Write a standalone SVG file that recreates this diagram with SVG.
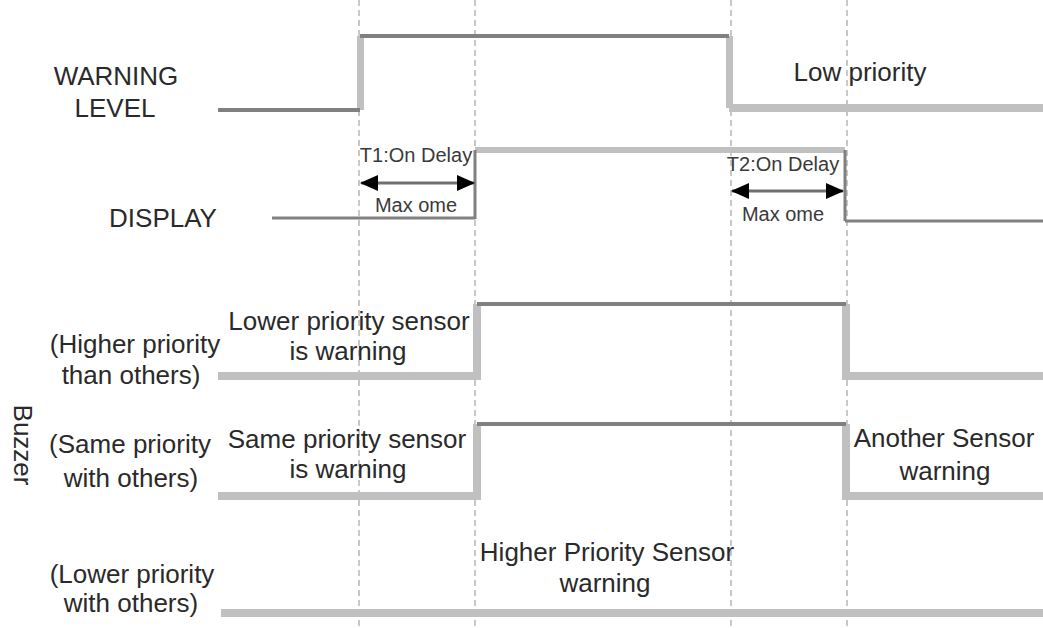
<svg xmlns="http://www.w3.org/2000/svg" width="1043" height="628" viewBox="0 0 1043 628">
  <style>
    .t { font-family: "Liberation Sans", Arial, sans-serif; font-size: 26px; fill: #2a2a2a; text-anchor: middle; }
    .s { font-family: "Liberation Sans", Arial, sans-serif; font-size: 20px; fill: #3a3a3a; text-anchor: middle; }
    .grid { stroke: #c8c8c8; stroke-width: 2; stroke-dasharray: 6 4; fill: none; }
    .dk { stroke: #808080; stroke-width: 4; fill: none; }
    .dk3 { stroke: #808080; stroke-width: 3; fill: none; }
    .lt { stroke: #c0c0c0; stroke-width: 8; fill: none; }
    .lt7 { stroke: #c0c0c0; stroke-width: 7; fill: none; }
    .arr { stroke: #707070; stroke-width: 3; fill: none; marker-start: url(#ah); marker-end: url(#ah); }
  </style>
  <defs>
    <marker id="ah" markerUnits="userSpaceOnUse" markerWidth="18" markerHeight="16" refX="17" refY="8" orient="auto-start-reverse" viewBox="0 0 18 16">
      <path d="M0,0 L18,8 L0,16 Z" fill="#000"/>
    </marker>
  </defs>
  <rect width="1043" height="628" fill="#fff"/>

  <g id="gridlines">
    <line class="grid" x1="359" y1="0" x2="359" y2="628"/>
    <line class="grid" x1="475" y1="0" x2="475" y2="628"/>
    <line class="grid" x1="731" y1="0" x2="731" y2="628"/>
    <line class="grid" x1="847" y1="0" x2="847" y2="628"/>
  </g>

  <g id="warning-level">
    <line class="lt7" x1="360.5" y1="36" x2="360.5" y2="110"/>
    <line class="lt7" x1="729.5" y1="36" x2="729.5" y2="108"/>
    <line class="dk" x1="218" y1="110" x2="360" y2="110"/>
    <line class="dk" x1="360" y1="36" x2="729" y2="36"/>
    <line class="lt" x1="729" y1="108" x2="1043" y2="108"/>
    <text class="t" x="116" y="85">WARNING</text>
    <text class="t" x="115" y="117">LEVEL</text>
    <text class="t" x="860" y="81">Low priority</text>
  </g>

  <g id="display">
    <line class="lt" x1="475" y1="150" x2="845" y2="150" style="stroke-width:6"/>
    <line class="dk3" x1="272" y1="218" x2="475" y2="218"/>
    <line class="dk3" x1="475" y1="150" x2="475" y2="219"/>
    <line class="dk3" x1="845" y1="150" x2="845" y2="221"/>
    <line class="dk3" x1="845" y1="221" x2="1043" y2="221"/>
    <text class="t" x="163" y="227">DISPLAY</text>
  </g>

  <g id="t1-delay">
    <line class="arr" x1="361" y1="183" x2="474" y2="183"/>
    <text class="s" x="416" y="162">T1:On Delay</text>
    <text class="s" x="416" y="212">Max ome</text>
  </g>

  <g id="t2-delay">
    <line class="arr" x1="732" y1="191" x2="843" y2="191"/>
    <text class="s" x="783" y="171">T2:On Delay</text>
    <text class="s" x="783" y="221">Max ome</text>
  </g>

  <g id="buzzer-label">
    <text class="t" transform="translate(14,445) rotate(90)">Buzzer</text>
  </g>

  <g id="buzzer-higher">
    <line class="lt" x1="218" y1="376" x2="477" y2="376"/>
    <line class="lt" x1="477" y1="304" x2="477" y2="380"/>
    <line class="lt" x1="846" y1="304" x2="846" y2="380"/>
    <line class="lt" x1="846" y1="376" x2="1043" y2="376"/>
    <line class="dk" x1="477" y1="304" x2="846" y2="304"/>
    <text class="t" x="135" y="353">(Higher priority</text>
    <text class="t" x="131" y="384">than others)</text>
    <text class="t" x="349" y="330">Lower priority sensor</text>
    <text class="t" x="348" y="360">is warning</text>
  </g>

  <g id="buzzer-same">
    <line class="lt" x1="218" y1="496" x2="477" y2="496"/>
    <line class="lt" x1="477" y1="424" x2="477" y2="500"/>
    <line class="lt" x1="846" y1="424" x2="846" y2="500"/>
    <line class="lt" x1="846" y1="496" x2="1043" y2="496"/>
    <line class="dk" x1="477" y1="424" x2="846" y2="424"/>
    <text class="t" x="130" y="453">(Same priority</text>
    <text class="t" x="131" y="487">with others)</text>
    <text class="t" x="347" y="448">Same priority sensor</text>
    <text class="t" x="348" y="478">is warning</text>
    <text class="t" x="944" y="447">Another Sensor</text>
    <text class="t" x="945" y="480">warning</text>
  </g>

  <g id="buzzer-lower">
    <line class="lt" x1="221" y1="613" x2="1043" y2="613"/>
    <text class="t" x="132" y="583">(Lower priority</text>
    <text class="t" x="131" y="612">with others)</text>
    <text class="t" x="607" y="561">Higher Priority Sensor</text>
    <text class="t" x="605" y="592">warning</text>
  </g>
</svg>
